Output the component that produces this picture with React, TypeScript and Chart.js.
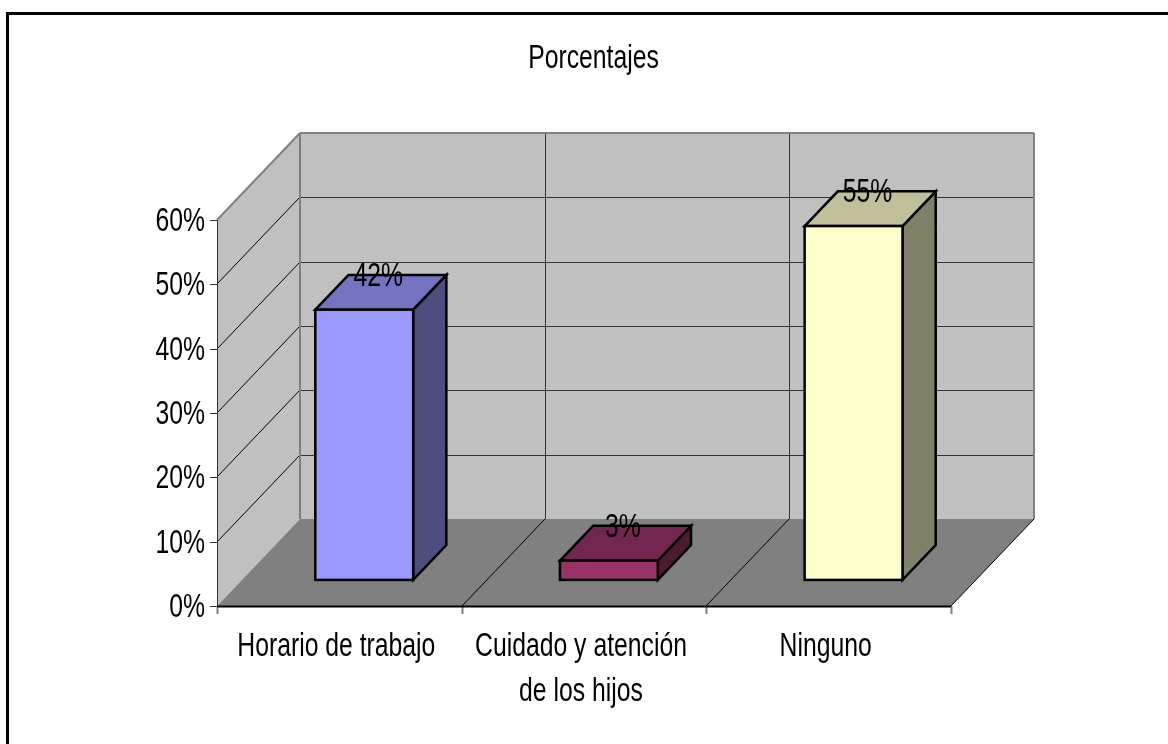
import React, { useEffect, useRef } from "react";
import { Chart, registerables } from "chart.js";

Chart.register(...registerables);

const TITLE = "Porcentajes";
const CATEGORIES: string[][] = [["Horario de trabajo"], ["Cuidado y atención", "de los hijos"], ["Ninguno"]];
const VALUES = [42, 3, 55];
const VALUE_LABELS = ["42%", "3%", "55%"];
const FRONT_COLORS = ["#9999FF", "#993366", "#FFFFCC"];
const TOP_COLORS = ["#7373BF", "#732650", "#BFBF99"];
const SIDE_COLORS = ["#4D4D80", "#4D1A33", "#808066"];

// Oblique projection of the box: total depth of the plot, and how far bars sit in it.
const DEPTH_X = 83;
const DEPTH_Y = 87;
const BAR_GAP_RATIO = 0.3;
const BAR_DEPTH_RATIO = 0.4;
const BAR_OUTLINE = 2.5;
const FONT = '"Liberation Sans", Arial, sans-serif';
const FONT_SIZE = 33;
const SQUEEZE = 0.75;

function squeezedText(ctx: CanvasRenderingContext2D, text: string, x: number, y: number, align: CanvasTextAlign) {
  ctx.save();
  ctx.translate(x, y);
  ctx.scale(SQUEEZE, 1);
  ctx.font = `${FONT_SIZE}px ${FONT}`;
  ctx.fillStyle = "#000";
  ctx.textAlign = align;
  ctx.textBaseline = "alphabetic";
  ctx.fillText(text, 0, 0);
  ctx.restore();
}

function segment(ctx: CanvasRenderingContext2D, x1: number, y1: number, x2: number, y2: number, color: string, width = 1) {
  ctx.strokeStyle = color;
  ctx.lineWidth = width;
  ctx.beginPath();
  ctx.moveTo(x1, y1);
  ctx.lineTo(x2, y2);
  ctx.stroke();
}

function polygon(ctx: CanvasRenderingContext2D, pts: number[][], fill: string) {
  ctx.fillStyle = fill;
  ctx.strokeStyle = "#000";
  ctx.lineWidth = BAR_OUTLINE;
  ctx.lineJoin = "miter";
  ctx.beginPath();
  pts.forEach(([x, y], i) => (i ? ctx.lineTo(x, y) : ctx.moveTo(x, y)));
  ctx.closePath();
  ctx.fill();
  ctx.stroke();
}

const box3d = {
  id: "box3d",
  beforeDatasetsDraw(chart: any) {
    const { ctx, chartArea: a, scales } = chart;
    const { left: l, right: r, top: t, bottom: b } = a;
    const y = scales.y;
    ctx.save();

    // Frame lines along the top and left of the chart area
    ctx.fillStyle = "#000";
    ctx.fillRect(6, 12, chart.width - 6, 3);
    ctx.fillRect(6, 12, 3, chart.height - 12);

    // Back wall, left wall and floor
    ctx.fillStyle = "#C0C0C0";
    ctx.fillRect(l + DEPTH_X, t - DEPTH_Y, r - l, b - t);
    ctx.beginPath();
    ctx.moveTo(l, t);
    ctx.lineTo(l + DEPTH_X, t - DEPTH_Y);
    ctx.lineTo(l + DEPTH_X, b - DEPTH_Y);
    ctx.lineTo(l, b);
    ctx.closePath();
    ctx.fill();
    ctx.fillStyle = "#808080";
    ctx.beginPath();
    ctx.moveTo(l, b);
    ctx.lineTo(l + DEPTH_X, b - DEPTH_Y);
    ctx.lineTo(r + DEPTH_X, b - DEPTH_Y);
    ctx.lineTo(r, b);
    ctx.closePath();
    ctx.fill();

    // Value gridlines across the left and back walls
    y.ticks.forEach((_: any, i: number) => {
      const py = Math.round(y.getPixelForTick(i));
      if (i > 0 && i < y.ticks.length - 1) {
        segment(ctx, l, py, l + DEPTH_X, py - DEPTH_Y, "#000");
        segment(ctx, l + DEPTH_X, py - DEPTH_Y + 0.5, r + DEPTH_X, py - DEPTH_Y + 0.5, "#333");
      }
      segment(ctx, l - 7, py + 0.5, l, py + 0.5, "#333");
    });

    // Category gridlines across the floor and back wall
    const step = (r - l) / VALUES.length;
    for (let i = 0; i <= VALUES.length; i++) {
      const px = Math.round(l + step * i);
      if (i > 0 && i < VALUES.length) {
        segment(ctx, px, b, px + DEPTH_X, b - DEPTH_Y, "#000");
        segment(ctx, px + DEPTH_X + 0.5, t - DEPTH_Y, px + DEPTH_X + 0.5, b - DEPTH_Y, "#333");
      }
      segment(ctx, px + 0.5, b, px + 0.5, b + 8, "#808080", 2);
    }

    // Wall edges
    segment(ctx, l + DEPTH_X, t - DEPTH_Y, r + DEPTH_X, t - DEPTH_Y, "#808080", 2);
    segment(ctx, l + DEPTH_X, t - DEPTH_Y, l + DEPTH_X, b - DEPTH_Y, "#808080", 2);
    segment(ctx, r + DEPTH_X, t - DEPTH_Y, r + DEPTH_X, b - DEPTH_Y, "#808080", 2);
    segment(ctx, l, t, l + DEPTH_X, t - DEPTH_Y, "#808080", 2);
    segment(ctx, l + 0.5, t, l + 0.5, b, "#333");
    segment(ctx, l, b + 0.5, r, b + 0.5, "#000", 2);
    segment(ctx, r, b, r + DEPTH_X, b - DEPTH_Y, "#000");

    // Top and side faces of the bars, placed behind their front faces
    const meta = chart.getDatasetMeta(0);
    const gx = DEPTH_X * BAR_GAP_RATIO;
    const gy = DEPTH_Y * BAR_GAP_RATIO;
    const dx = DEPTH_X * BAR_DEPTH_RATIO;
    const dy = DEPTH_Y * BAR_DEPTH_RATIO;
    meta.data.forEach((bar: any, i: number) => {
      const x0 = bar.x - bar.width / 2 + gx;
      const x1 = bar.x + bar.width / 2 + gx;
      const yTop = bar.y - gy;
      const yBase = bar.base - gy;
      polygon(ctx, [[x1, yTop], [x1 + dx, yTop - dy], [x1 + dx, yBase - dy], [x1, yBase]], SIDE_COLORS[i]);
      polygon(ctx, [[x0, yTop], [x0 + dx, yTop - dy], [x1 + dx, yTop - dy], [x1, yTop]], TOP_COLORS[i]);
    });
    ctx.restore();
  },
  beforeDatasetDraw(chart: any) {
    // The front faces are the library's own bar elements, pushed back into the box
    chart.ctx.save();
    chart.ctx.translate(DEPTH_X * BAR_GAP_RATIO, -DEPTH_Y * BAR_GAP_RATIO);
  },
  afterDatasetDraw(chart: any) {
    const ctx = chart.ctx;
    // Outline each front face on its exact value edges
    ctx.strokeStyle = "#000";
    ctx.lineWidth = BAR_OUTLINE;
    chart.getDatasetMeta(0).data.forEach((bar: any) => {
      ctx.strokeRect(bar.x - bar.width / 2, bar.y, bar.width, bar.base - bar.y);
    });
    ctx.restore();
  },
  afterDraw(chart: any) {
    const { ctx, chartArea: a, scales } = chart;
    const y = scales.y;
    const x = scales.x;

    squeezedText(ctx, TITLE, (528 + 659) / 2, 68, "center");

    y.ticks.forEach((tick: any, i: number) => {
      squeezedText(ctx, tick.label as string, a.left - 12, y.getPixelForTick(i) + 11, "right");
    });

    CATEGORIES.forEach((lines, i) => {
      lines.forEach((line, j) => {
        squeezedText(ctx, line, x.getPixelForValue(i) - 3, a.bottom + 50 + j * 45, "center");
      });
    });

    const meta = chart.getDatasetMeta(0);
    meta.data.forEach((bar: any, i: number) => {
      squeezedText(
        ctx,
        VALUE_LABELS[i],
        bar.x + DEPTH_X * BAR_GAP_RATIO + 14,
        bar.y - DEPTH_Y * (BAR_GAP_RATIO + BAR_DEPTH_RATIO) + 11,
        "center",
      );
    });
  },
};

export default function App() {
  const canvasRef = useRef<HTMLCanvasElement>(null);

  useEffect(() => {
    document.body.style.margin = "0";
    const chart = new Chart(canvasRef.current as HTMLCanvasElement, {
      type: "bar",
      data: {
        labels: CATEGORIES.map((c) => c.join(" ")),
        datasets: [
          {
            data: VALUES,
            backgroundColor: FRONT_COLORS,
            borderWidth: 0,
            barPercentage: 0.4,
            categoryPercentage: 1,
          },
        ],
      },
      options: {
        responsive: false,
        animation: false,
        layout: { padding: { left: 0, right: 217, top: 220, bottom: 0 } },
        plugins: { legend: { display: false }, title: { display: false }, tooltip: { enabled: false } },
        scales: {
          x: {
            grid: { display: false },
            border: { display: false },
            ticks: { display: false },
            afterFit: (s: any) => {
              s.height = 138;
            },
          },
          y: {
            min: 0,
            max: 60,
            grid: { display: false },
            border: { display: false },
            ticks: { display: false, stepSize: 10, callback: (v: any) => `${v}%` },
            afterFit: (s: any) => {
              s.width = 217;
            },
          },
        },
      },
      plugins: [box3d],
    } as any);
    return () => chart.destroy();
  }, []);

  return <canvas ref={canvasRef} width={1168} height={744} style={{ display: "block" }} />;
}
